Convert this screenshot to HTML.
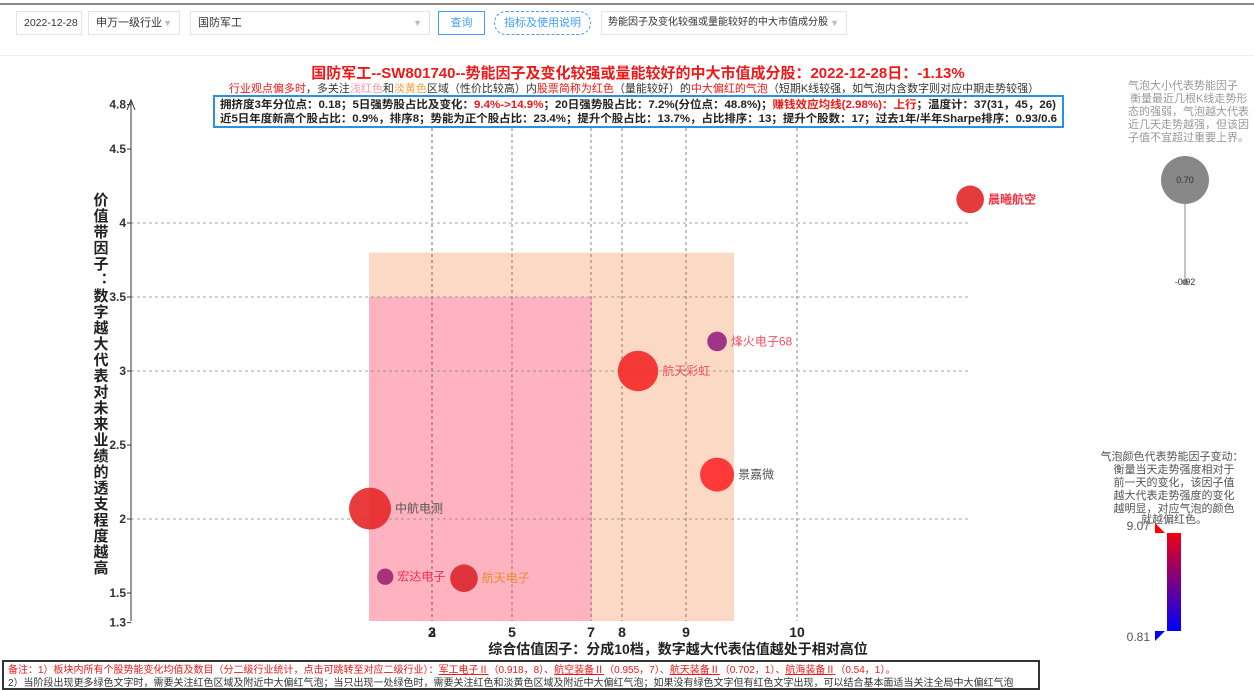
<!DOCTYPE html>
<html><head><meta charset="utf-8">
<style>
body{margin:0;width:1254px;height:684px;overflow:hidden;background:#fff;font-family:"Liberation Sans","Noto Sans CJK SC",sans-serif;position:relative}
.ctl{position:absolute;top:11px;height:24px;border:1px solid #e4e4e4;font-size:11px;line-height:22px;color:#333;box-sizing:border-box;padding-left:7px;background:#fff;white-space:nowrap;overflow:hidden}
.arr{position:absolute;right:7px;top:0;color:#bbb;font-size:9px}
</style></head><body>
<div style="position:absolute;left:0;top:3px;width:1254px;height:2px;background:#888"></div>
<div class="ctl" style="left:16px;width:66px;font-size:10.5px">2022-12-28</div>
<div class="ctl" style="left:88px;width:92px">申万一级行业<span class="arr">▼</span></div>
<div class="ctl" style="left:190px;width:240px">国防军工<span class="arr">▼</span></div>
<div class="ctl" style="left:438px;width:47px;border-color:#409eff;color:#409eff;padding:0;text-align:center">查询</div>
<div class="ctl" style="left:494px;width:97px;border:1px dashed #409eff;border-radius:12px;color:#409eff;padding:0;text-align:center">指标及使用说明</div>
<div class="ctl" style="left:601px;width:246px;font-size:10px;padding-left:6px">势能因子及变化较强或量能较好的中大市值成分股<span class="arr">▼</span></div>
<div style="position:absolute;left:0;top:55px;width:1254px;height:1px;background:#eee"></div>

<svg width="1254" height="684" style="position:absolute;left:0;top:0" id="chart">
<g id="bg"></g><g id="grid"></g><g id="axes"></g><g id="marks"></g>
<text x="638" y="78" text-anchor="middle" font-size="15" font-weight="bold" fill="#f01818">国防军工--SW801740--势能因子及变化较强或量能较好的中大市值成分股：2022-12-28日：-1.13%</text>
<text x="634" y="92" text-anchor="middle" font-size="11" fill="#333"><tspan fill="#f01818">行业观点偏多时</tspan>，多关注<tspan fill="#ff9aa8">浅红色</tspan>和<tspan fill="#f5a040">淡黄色</tspan>区域（性价比较高）内<tspan fill="#f01818">股票简称为红色</tspan>（量能较好）的<tspan fill="#f01818">中大偏红的气泡</tspan>（短期K线较强，如气泡内含数字则对应中期走势较强）</text>
<rect x="214" y="96" width="849" height="31" fill="#fff" stroke="#2a8fe8" stroke-width="2"/>
<text x="220" y="108" font-size="11" font-weight="bold" fill="#222" textLength="836" lengthAdjust="spacingAndGlyphs">拥挤度3年分位点：0.18；5日强势股占比及变化：<tspan fill="#f01818">9.4%-&gt;14.9%</tspan>；20日强势股占比：7.2%(分位点：48.8%)；<tspan fill="#f01818">赚钱效应均线(2.98%)：上行</tspan>；温度计：37(31，45，26)</text>
<text x="220" y="122" font-size="11" font-weight="bold" fill="#222" textLength="837" lengthAdjust="spacingAndGlyphs">近5日年度新高个股占比：0.9%，排序8；势能为正个股占比：23.4%；提升个股占比：13.7%，占比排序：13；提升个股数：17；过去1年/半年Sharpe排序：0.93/0.6</text>
<text transform="translate(100,192)" font-size="15" font-weight="bold" fill="#222" letter-spacing="1" style="writing-mode:tb">价值带因子：数字越大代表对未来业绩的透支程度越高</text>
<text x="678" y="654" text-anchor="middle" font-size="14" font-weight="bold" fill="#222">综合估值因子：分成10档，数字越大代表估值越处于相对高位</text>
<g>
<text font-size="11" fill="#999"><tspan x="1128" y="89">气泡大小代表势能因子</tspan><tspan x="1130" y="102">衡量最近几根K线走势形</tspan><tspan x="1128" y="115">态的强弱，气泡越大代表</tspan><tspan x="1128" y="128">近几天走势越强，但该因</tspan><tspan x="1128" y="141">子值不宜超过重要上界。</tspan></text>
<circle cx="1185" cy="180" r="24" fill="#888"/>
<line x1="1185" y1="180" x2="1185" y2="282" stroke="#888"/>
<circle cx="1185" cy="282" r="3" fill="#888"/>
<text x="1185" y="183" text-anchor="middle" font-size="9" fill="#333">0.70</text>
<text x="1185" y="285" text-anchor="middle" font-size="9" fill="#333">-0.92</text>
</g>
<g>
<text font-size="11" fill="#555" text-anchor="middle"><tspan x="1172" y="460">气泡颜色代表势能因子变动：</tspan><tspan x="1174" y="473">衡量当天走势强度相对于</tspan><tspan x="1174" y="486">前一天的变化，该因子值</tspan><tspan x="1174" y="499">越大代表走势强度的变化</tspan><tspan x="1174" y="512">越明显，对应气泡的颜色</tspan><tspan x="1174" y="523">就越偏红色。</tspan></text>
<defs><linearGradient id="cg" x1="0" y1="0" x2="0" y2="1"><stop offset="0" stop-color="#f00010"/><stop offset="1" stop-color="#0000ff"/></linearGradient></defs>
<rect x="1167" y="533" width="14" height="98" fill="url(#cg)"/>
<polygon points="1155,523 1155,533 1165,533" fill="#f00"/>
<polygon points="1155,641 1155,631 1165,631" fill="#00f"/>
<text x="1150" y="530" text-anchor="end" font-size="12" fill="#555">9.07</text>
<text x="1150" y="641" text-anchor="end" font-size="12" fill="#555">0.81</text>
</g>
</svg>
<div style="position:absolute;left:2px;top:660px;width:1038px;height:30px;border:2px solid #333;box-sizing:border-box;font-size:10px;padding:2px 4px;line-height:13px;overflow:hidden">
<div style="color:#f01818">备注：1）板块内所有个股势能变化均值及数目（分二级行业统计，点击可跳转至对应二级行业）：<u>军工电子Ⅱ</u>（0.918，8）、<u>航空装备Ⅱ</u>（0.955，7）、<u>航天装备Ⅱ</u>（0.702，1）、<u>航海装备Ⅱ</u>（0.54，1）。</div>
<div style="color:#333">2）当阶段出现更多绿色文字时，需要关注红色区域及附近中大偏红气泡；当只出现一处绿色时，需要关注红色和淡黄色区域及附近中大偏红气泡；如果没有绿色文字但有红色文字出现，可以结合基本面适当关注全局中大偏红气泡</div>
</div>
<script>
const xTicks=[2,3,5,7,8,9,10];
const yTicks=[1.3,1.5,2,2.5,3,3.5,4,4.5,4.8];
const yGrid=[2,3,3.5,4];
const names=["晨曦航空","烽火电子68","航天彩虹","景嘉微","中航电测","宏达电子","航天电子"];
const xVals=[11.56,9.28,8.25,9.28,1.45,1.83,3.8];
const yVals=[4.16,3.2,3.0,2.3,2.07,1.61,1.6];
const sizeVals=[0.55,0.3,0.95,0.75,1.0,0.2,0.55];
const colorVals=[7.8,4.5,8.6,9.0,8.0,5.0,7.5];
const labelColors=["#f03040","#f05060","#f05060","#555","#555","#f03050","#f08a30"];
// piecewise x-axis layout (knots); ticks 2 and 3 share the same position
const knotV=[3,5,7,8,9,10], knotP=[432,512,591,622,686,797];
function xs(v){let i=0;if(v<=knotV[0])i=0;else if(v>=knotV[knotV.length-1])i=knotV.length-2;else while(v>knotV[i+1])i++;
 return knotP[i]+(v-knotV[i])*(knotP[i+1]-knotP[i])/(knotV[i+1]-knotV[i]);}
function xTickPos(v){return v<3?xs(3):xs(v);}
function ys(v){return 371-(v-3)*148;}
function col(c){const t=(c-0.81)/(9.07-0.81);const r=Math.round(60+195*t),b=Math.round(255*(1-t)*0.9);return `rgb(${r},${Math.round(30+10*t)},${Math.max(b,40)})`;}
const NS="http://www.w3.org/2000/svg";
function mk(t,a,p){const e=document.createElementNS(NS,t);for(const k in a)e.setAttribute(k,a[k]);document.getElementById(p).appendChild(e);return e;}
let z1=mk('rect',{x:369,y:ys(3.8),width:734-369,height:621-ys(3.8),fill:'#fcd9c4'},'bg');


let z2=mk('rect',{x:369,y:ys(3.5),width:592-369,height:621-ys(3.5),fill:'#ffb3c0'},'bg');


xTicks.forEach(v=>{const px=xTickPos(v);const l=mk('line',{x1:px,x2:px,y1:104,y2:621,stroke:'#666','stroke-dasharray':'3,3','stroke-width':0.8},'grid');


const t=mk('text',{x:px,y:637,'text-anchor':'middle','font-size':14,'font-weight':'bold',fill:'#222'},'axes');t.textContent=v;

});
yGrid.forEach(v=>{const l=mk('line',{x1:131,x2:970,y1:ys(v),y2:ys(v),stroke:'#888','stroke-dasharray':'3,3','stroke-width':0.8},'grid');

});
yTicks.forEach(v=>{const t=mk('text',{x:126,y:ys(v)+4,'text-anchor':'end','font-size':12,'font-weight':'bold',fill:'#333'},'axes');t.textContent=v;


mk('line',{x1:127,x2:131,y1:ys(v),y2:ys(v),stroke:'#333'},'axes');});
const ax=mk('line',{x1:131,x2:131,y1:100,y2:621,stroke:'#333'},'axes');


mk('polyline',{points:'127,110 131,100 135,110',fill:'none',stroke:'#333'},'axes');
names.forEach((n,i)=>{const cx=xs(xVals[i]),cy=ys(yVals[i]),r=5+16*sizeVals[i];
const c=mk('circle',{cx:cx,cy:cy,r:r,fill:col(colorVals[i]),'fill-opacity':0.9},'marks');


const t=mk('text',{x:cx+r+4,y:cy+4,'font-size':12,fill:labelColors[i],'font-weight':i==0?'bold':'normal'},'marks');t.textContent=n;

});
</script>
</body></html>
